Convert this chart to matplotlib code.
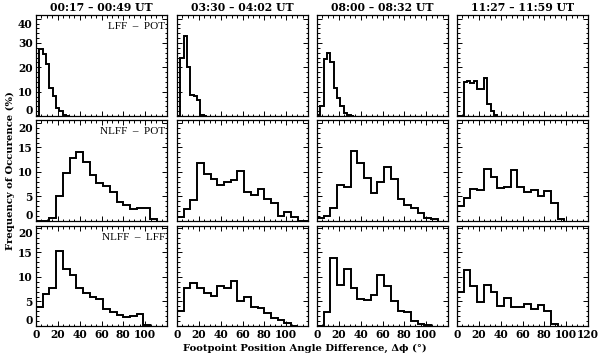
import numpy as np
import matplotlib
matplotlib.use("Agg")
import matplotlib.pyplot as plt
from matplotlib.ticker import MultipleLocator, FixedLocator

# ---------------- data ----------------
titles = ["00:17 \u2013 00:49 UT", "03:30 \u2013 04:02 UT",
          "08:00 \u2013 08:32 UT", "11:27 \u2013 11:59 UT"]
row_labels = ["LFF  \u2013  POT", "NLFF  \u2013  POT", "NLFF  \u2013  LFF"]

# bin widths (degrees)
bin_w_top = 3.07
bin_w = 6.15

# Row 1: LFF - POT (frequency %), bins start at 0
lff_pot_1 = [0, 27.5, 25.5, 21.5, 11.5, 8.3, 3.2, 2.0, 0.5, 0.2]
lff_pot_2 = [0, 24.0, 33.0, 20.0, 8.5, 8.3, 6.5, 0.4, 0.2]
lff_pot_3 = [0.3, 4.0, 23.4, 25.8, 22.0, 11.4, 7.6, 4.1, 1.4, 0.4, 0.2]
lff_pot_4 = [0, 0, 13.8, 14.5, 13.6, 14.5, 11.0, 11.0, 15.8, 5.0, 2.0, 0.4]

# Row 2: NLFF - POT
nlff_pot_1 = [0, 0, 0.7, 5.0, 9.8, 12.9, 14.0, 12.0, 9.3, 7.8, 7.2, 5.9,
              3.8, 3.3, 2.4, 2.6, 2.6, 0.5]
nlff_pot_2 = [0.8, 2.4, 4.2, 11.8, 9.6, 8.5, 7.4, 7.9, 8.3, 10.3, 5.9, 5.4,
              6.5, 4.4, 3.7, 1.1, 1.8, 0.8, 0.1, 0.1]
nlff_pot_3 = [0.6, 1.0, 2.6, 7.4, 7.0, 14.3, 11.8, 8.7, 5.8, 7.9, 11.0, 8.5,
              4.5, 3.3, 2.7, 1.7, 0.6, 0.4]
nlff_pot_4 = [3.0, 4.7, 6.5, 6.4, 10.6, 8.9, 6.7, 7.0, 10.4, 6.9, 6.0, 6.3,
              5.1, 6.2, 3.6, 0.4]

# Row 3: NLFF - LFF
nlff_lff_1 = [3.8, 6.5, 7.7, 15.4, 11.6, 10.4, 7.8, 6.7, 6.0, 5.5, 3.5, 2.9,
              2.2, 1.9, 2.0, 2.4, 0.2]
nlff_lff_2 = [3.0, 7.8, 8.8, 7.8, 6.7, 6.2, 8.2, 7.8, 9.2, 5.0, 5.9, 3.9,
              3.6, 2.6, 1.7, 1.2, 0.7, 0.1]
nlff_lff_3 = [0.1, 2.9, 13.8, 8.4, 11.6, 7.8, 5.6, 5.4, 6.3, 10.5, 8.2, 5.0,
              3.1, 2.8, 1.0, 0.4, 0.15]
nlff_lff_4 = [6.9, 11.4, 8.2, 4.8, 8.4, 6.9, 4.1, 5.8, 3.8, 3.8, 4.4, 3.5,
              4.3, 3.1, 0.5]

rows = [
    [lff_pot_1, lff_pot_2, lff_pot_3, lff_pot_4],
    [nlff_pot_1, nlff_pot_2, nlff_pot_3, nlff_pot_4],
    [nlff_lff_1, nlff_lff_2, nlff_lff_3, nlff_lff_4],
]
row_binw = [bin_w_top, bin_w, bin_w]
row_ylim = [(0, 41.5), (0, 20.6), (0, 20.4)]
row_major = [10, 5, 5]
row_minor = [2, 1, 1]
x_ticks = [0, 20, 40, 60, 80, 100, 120]

# ---------------- layout ----------------
plt.rcParams['font.family'] = ['DejaVu Serif']
W, H = 600, 358
fig = plt.figure(figsize=(W / 100, H / 100), dpi=100)
lefts = [36, 177, 317, 457]
pw = 131
tops = [15, 120, 226]
bots = [116, 221, 326]

for r in range(3):
    for c in range(4):
        ax = fig.add_axes([lefts[c] / W, 1 - bots[r] / H, pw / W,
                           (bots[r] - tops[r]) / H])
        vals = np.asarray(rows[r][c], dtype=float)
        edges = np.arange(len(vals) + 1) * row_binw[r]
        ax.stairs(vals, edges, color='black', lw=1.4, baseline=0)
        ax.set_xlim(0, 120)
        ax.set_ylim(*row_ylim[r])
        ax.xaxis.set_major_locator(FixedLocator(x_ticks))
        ax.xaxis.set_minor_locator(MultipleLocator(5))
        ax.yaxis.set_major_locator(MultipleLocator(row_major[r]))
        ax.yaxis.set_minor_locator(MultipleLocator(row_minor[r]))
        ax.tick_params(which='both', direction='in', top=True, right=True,
                       width=0.7, labelsize=7.7, pad=2.5)
        ax.tick_params(which='major', length=3.5)
        ax.tick_params(which='minor', length=1.8)
        for sp in ax.spines.values():
            sp.set_linewidth(0.9)
        if r < 2:
            ax.set_xticklabels([])
        else:
            ax.set_xticklabels([str(t) if (t < 120 or c == 3) else ''
                                for t in x_ticks])
        if c > 0:
            ax.set_yticklabels([])
        for lab in ax.get_xticklabels() + ax.get_yticklabels():
            lab.set_fontweight('bold')
        yt = [t for t in ax.yaxis.get_major_ticks()]
        locs = ax.yaxis.get_majorticklocs()
        lo, hi = row_ylim[r]
        for t, v in zip(yt, locs):
            if abs(v - lo) < 1e-6:
                t.label1.set_verticalalignment('bottom')
            elif abs(v - round(hi / row_major[r]) * row_major[r]) < 1e-6:
                t.label1.set_verticalalignment('top')
        if r == 0:
            ax.set_title(titles[c], fontsize=7.8, fontweight='bold', pad=3)
        if c == 0:
            ax.text(0.985, 0.93, row_labels[r], transform=ax.transAxes,
                    ha='right', va='top', fontsize=8,
                    family='Liberation Serif')

fig.text(305 / W, 1 - 348 / H,
         "Footpoint Position Angle Difference, \u0394\u03d5 (\u00b0)",
         ha='center', va='center', fontsize=7.2, fontweight='bold')
fig.text(10 / W, 1 - 171 / H, "Frequency of Occurence (%)", rotation=90,
         ha='center', va='center', fontsize=7.2, fontweight='bold')

fig.savefig('out.png', dpi=100)
